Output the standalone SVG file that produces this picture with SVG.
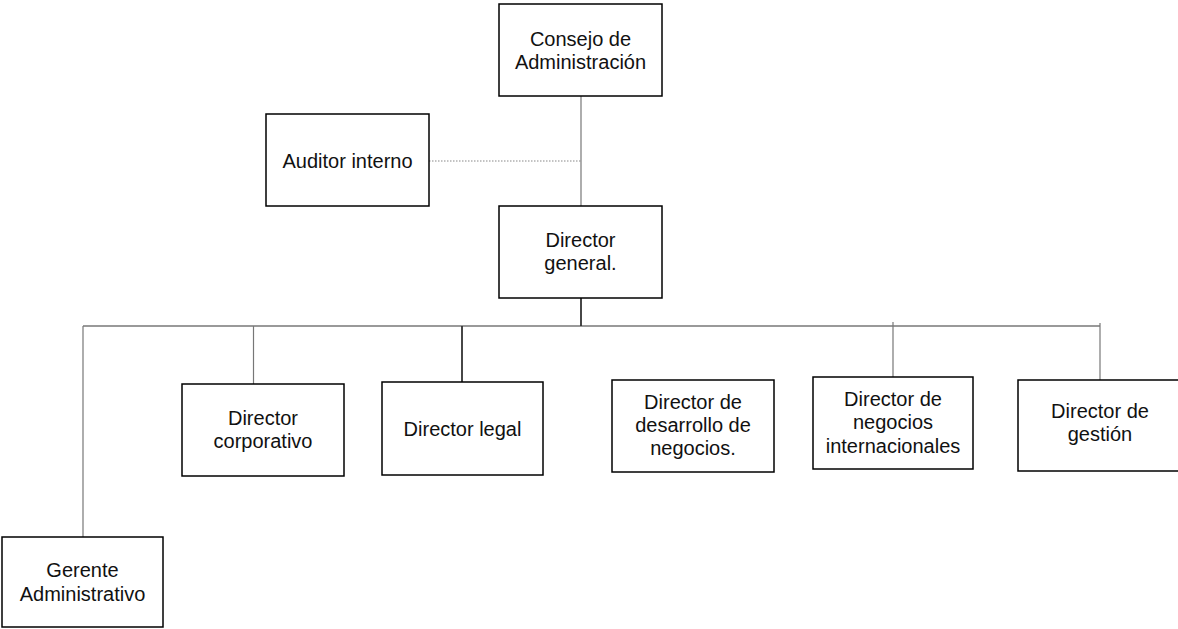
<svg xmlns="http://www.w3.org/2000/svg" width="1178" height="629" viewBox="0 0 1178 629">
<style>
.box{fill:#fff;stroke:#000;stroke-width:1.5}
.t{font-family:"Liberation Sans",Arial,sans-serif;font-size:20px;fill:#111;text-anchor:middle}
.c{stroke:#777;stroke-width:1.2;fill:none}
.h{stroke:#999;stroke-width:2;fill:none}
.d{stroke:#333;stroke-width:1.8;fill:none}
.dot{stroke:#888;stroke-width:1.2;stroke-dasharray:1.5 1.5;fill:none}
</style>
<rect width="1178" height="629" fill="#fff"/>
<g id="connectors">
<line class="c" x1="581" y1="96" x2="581" y2="206"/>
<line class="dot" x1="429" y1="161" x2="581" y2="161"/>
<line class="h" x1="83" y1="326" x2="1100" y2="326"/>
<line class="d" x1="581" y1="298" x2="581" y2="326"/>
<line class="c" x1="83" y1="326" x2="83" y2="537"/>
<line class="c" x1="253.5" y1="326" x2="253.5" y2="384"/>
<line class="d" x1="462" y1="326" x2="462" y2="382"/>
<line class="c" x1="893" y1="322" x2="893" y2="377"/>
<line class="c" x1="1100" y1="323" x2="1100" y2="380"/>
</g>
<g id="consejo">
<rect class="box" x="499" y="4" width="163" height="92"/>
<text class="t" x="580.5" y="46">Consejo de</text>
<text class="t" x="580.5" y="69">Administración</text>
</g>
<g id="auditor">
<rect class="box" x="266" y="114" width="163" height="92"/>
<text class="t" x="347.5" y="168">Auditor interno</text>
</g>
<g id="director-general">
<rect class="box" x="499" y="206" width="163" height="92"/>
<text class="t" x="580.5" y="247">Director</text>
<text class="t" x="580.5" y="270">general.</text>
</g>
<g id="director-corporativo">
<rect class="box" x="182" y="384" width="162" height="92"/>
<text class="t" x="263" y="425">Director</text>
<text class="t" x="263" y="448">corporativo</text>
</g>
<g id="director-legal">
<rect class="box" x="382" y="382" width="161" height="93"/>
<text class="t" x="462.5" y="436">Director legal</text>
</g>
<g id="director-desarrollo">
<rect class="box" x="612" y="380" width="162" height="92"/>
<text class="t" x="693" y="409">Director de</text>
<text class="t" x="693" y="432">desarrollo de</text>
<text class="t" x="693" y="455">negocios.</text>
</g>
<g id="director-internacionales">
<rect class="box" x="813" y="377" width="160" height="92"/>
<text class="t" x="893" y="406">Director de</text>
<text class="t" x="893" y="429">negocios</text>
<text class="t" x="893" y="453">internacionales</text>
</g>
<g id="director-gestion">
<rect class="box" x="1018" y="380" width="164" height="91"/>
<text class="t" x="1100" y="418">Director de</text>
<text class="t" x="1100" y="441">gestión</text>
</g>
<g id="gerente-administrativo">
<rect class="box" x="2" y="537" width="161" height="90"/>
<text class="t" x="82.5" y="577">Gerente</text>
<text class="t" x="82.5" y="601">Administrativo</text>
</g>
</svg>
